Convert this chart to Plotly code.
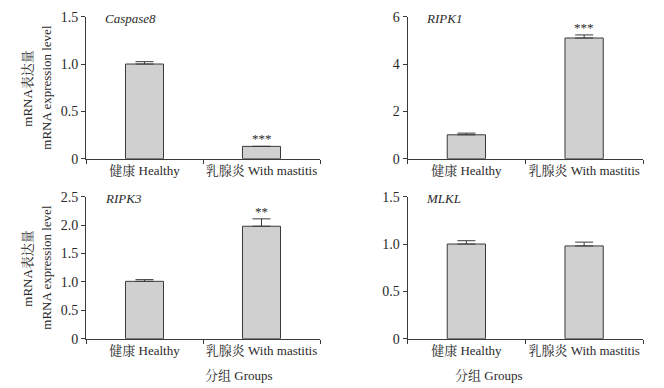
import plotly.graph_objects as go

categories = ["健康 Healthy", "乳腺炎 With mastitis"]
genes = ["Caspase8", "RIPK1", "RIPK3", "MLKL"]
means = {
    "Caspase8": [1.00, 0.13],
    "RIPK1": [1.01, 5.10],
    "RIPK3": [1.01, 1.98],
    "MLKL": [1.00, 0.98],
}
errors = {
    "Caspase8": [0.025, 0.0],
    "RIPK1": [0.07, 0.13],
    "RIPK3": [0.03, 0.13],
    "MLKL": [0.035, 0.04],
}
signif = {
    "Caspase8": ["", "***"],
    "RIPK1": ["", "***"],
    "RIPK3": ["", "**"],
    "MLKL": ["", ""],
}
y_max = {"Caspase8": 1.5, "RIPK1": 6, "RIPK3": 2.5, "MLKL": 1.5}
y_tickvals = {
    "Caspase8": [0, 0.5, 1.0, 1.5],
    "RIPK1": [0, 2, 4, 6],
    "RIPK3": [0, 0.5, 1.0, 1.5, 2.0, 2.5],
    "MLKL": [0, 0.5, 1.0, 1.5],
}
y_ticktext = {
    "Caspase8": ["0", "0.5", "1.0", "1.5"],
    "RIPK1": ["0", "2", "4", "6"],
    "RIPK3": ["0", "0.5", "1.0", "1.5", "2.0", "2.5"],
    "MLKL": ["0", "0.5", "1.0", "1.5"],
}
y_title_cn = "mRNA表达量"
y_title_en = "mRNA expression level"
x_title = "分组 Groups"

W, H = 664, 388
FONT = "Liberation Serif, Noto Serif CJK SC, Noto Sans CJK SC"
TXT = "#2a2a2a"
LINE = "#3a3a3a"

# panel pixel boxes: (left, right, top, bottom)
boxes = [
    (86, 320, 16.7, 158.7),
    (407.5, 643, 16.7, 158.7),
    (86, 320, 196.7, 338.7),
    (407.5, 643, 196.7, 338.7),
]

fig = go.Figure()
annotations = []
layout = {}
for i, g in enumerate(genes):
    l, r, t, b = boxes[i]
    sfx = "" if i == 0 else str(i + 1)
    xa, ya = "x" + sfx, "y" + sfx
    fig.add_trace(go.Bar(
        x=categories, y=means[g], width=0.325,
        marker=dict(color="#d0d0d0", line=dict(color=LINE, width=1)),
        error_y=dict(type="data", array=errors[g], arrayminus=[0, 0], symmetric=False,
                     color=LINE, thickness=1, width=9),
        xaxis=xa, yaxis=ya, showlegend=False, hoverinfo="skip",
    ))
    layout["xaxis" + sfx] = dict(
        domain=[l / W, r / W], anchor=ya, type="category", range=[-0.5, 1.5],
        showline=True, linecolor=LINE, linewidth=1, ticks="outside", ticklen=4,
        tickcolor=LINE, tickson="boundaries", showgrid=False, zeroline=False,
        tickangle=0, automargin=False, fixedrange=True,
        tickfont=dict(family=FONT, size=13, color=TXT),
    )
    layout["yaxis" + sfx] = dict(
        domain=[(H - b) / H, (H - t) / H], anchor=xa, range=[0, y_max[g]],
        tickvals=y_tickvals[g], ticktext=y_ticktext[g],
        showline=True, linecolor=LINE, linewidth=1, ticks="outside", ticklen=4,
        tickcolor=LINE, showgrid=False, zeroline=False, automargin=False, fixedrange=True,
        tickfont=dict(family=FONT, size=14, color=TXT),
    )
    # gene title
    annotations.append(dict(
        text="<i>" + g + "</i>", xref="paper", yref="paper",
        x=(l + 17) / W, y=(H - t - 2) / H, xanchor="left", yanchor="middle",
        showarrow=False, font=dict(family=FONT, size=13, color=TXT),
    ))
    # significance marks
    for j, s in enumerate(signif[g]):
        if s:
            annotations.append(dict(
                text=s, xref=xa, yref=ya, x=categories[j],
                y=means[g][j] + errors[g][j], yanchor="bottom", yshift=-2,
                showarrow=False, font=dict(family=FONT, size=13, color=TXT),
            ))
    if i in (0, 2):
        yc = (H - (t + b) / 2) / H
        annotations.append(dict(text=y_title_cn, xref="paper", yref="paper",
                                x=28 / W, y=yc, textangle=-90, showarrow=False,
                                xanchor="center", yanchor="middle",
                                font=dict(family=FONT, size=13, color=TXT)))
        annotations.append(dict(text=y_title_en, xref="paper", yref="paper",
                                x=47 / W, y=yc, textangle=-90, showarrow=False,
                                xanchor="center", yanchor="middle",
                                font=dict(family=FONT, size=13, color=TXT)))
    if i in (2, 3):
        annotations.append(dict(text=x_title, xref="paper", yref="paper",
                                x=((l + r) / 2) / W, y=(H - 375) / H, yanchor="middle",
                                showarrow=False, font=dict(family=FONT, size=13, color=TXT)))

fig.update_layout(
    width=W, height=H, margin=dict(l=0, r=0, t=0, b=0),
    paper_bgcolor="white", plot_bgcolor="white",
    annotations=annotations, **layout,
)
fig.write_html("out.html", config={"displayModeBar": False},
               post_script="document.body.style.margin='0';")
